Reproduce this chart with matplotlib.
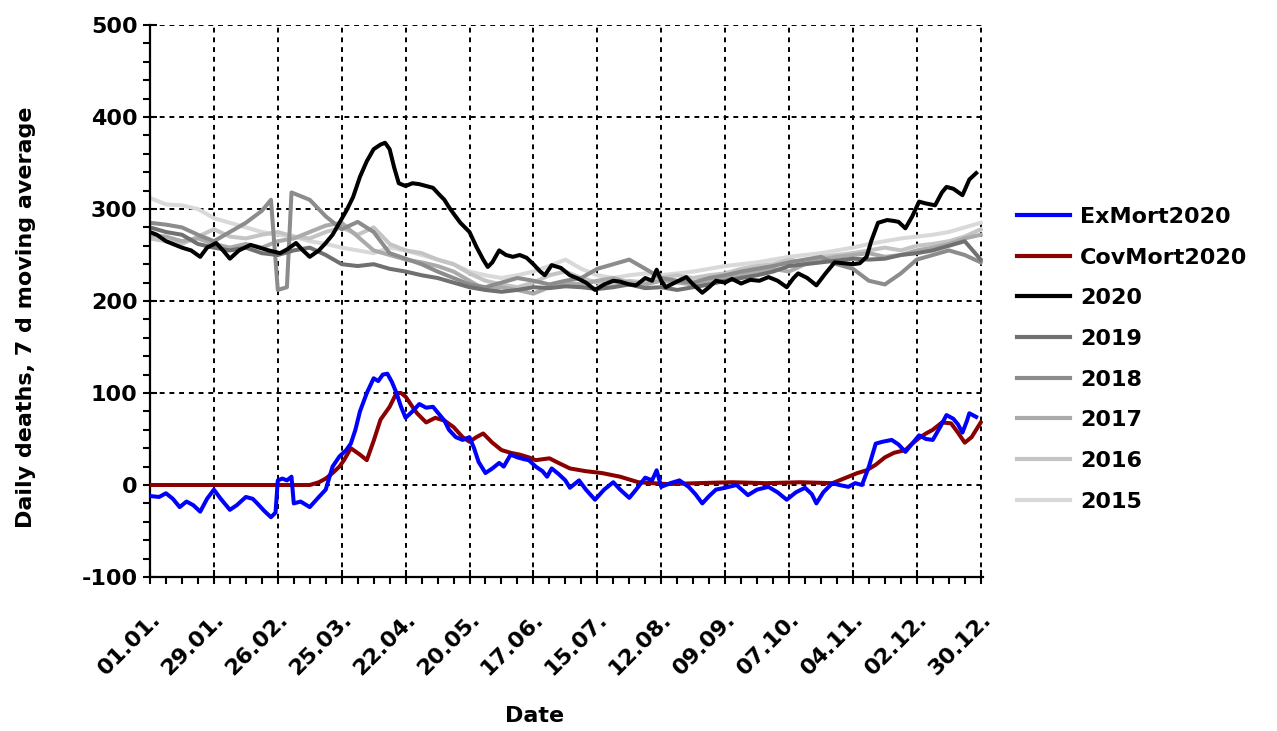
import matplotlib
matplotlib.use("Agg")
import matplotlib.pyplot as plt
from matplotlib.ticker import MultipleLocator
from matplotlib.lines import Line2D
from matplotlib.transforms import ScaledTranslation

plt.rcParams['font.family'] = ['DejaVu Sans']
plt.rcParams['font.weight'] = 'bold'
plt.rcParams['axes.unicode_minus'] = False

# ---------------- data (day of year index, value) ----------------
tick_days = [0, 28, 56, 84, 112, 140, 168, 196, 224, 252, 280, 308, 336, 364]
tick_labels = ["01.01.", "29.01.", "26.02.", "25.03.", "22.04.", "20.05.", "17.06.",
               "15.07.", "12.08.", "09.09.", "07.10.", "04.11.", "02.12.", "30.12."]

d2020 = [0, 3, 7, 10, 14, 18, 22, 25, 29, 32, 35, 39, 44, 48, 52, 57, 60, 64, 67, 70, 74, 77, 80, 83,
         86, 89, 92, 95, 98, 101, 103, 105, 107, 109, 112, 115, 118, 121, 124, 127, 129, 131, 133,
         136, 140, 143, 146, 148, 150, 153, 156, 159, 162, 165, 168, 171, 173, 176, 180, 184, 187,
         191, 195, 199, 203, 206, 210, 213, 217, 220, 222, 224, 226, 230, 235, 238, 242, 245, 248,
         252, 255, 259, 263, 267, 271, 275, 279, 282, 284, 288, 292, 296, 300, 304, 308, 311, 314,
         316, 319, 323, 326, 328, 331, 334, 337, 340, 344, 347, 349, 352, 356, 359, 362]
v2020 = [275, 272, 265, 262, 258, 255, 248, 258, 263, 255, 246, 255, 261, 258, 255, 252, 256, 263,
         255, 248, 255, 263, 272, 285, 298, 313, 335, 352, 365, 370, 372, 365, 345, 328, 325, 328,
         327, 325, 323, 315, 310, 302, 295, 285, 275, 259, 245, 237, 242, 255, 250, 248, 250, 247,
         240, 232, 228, 239, 236, 228, 225, 220, 212, 218, 222, 221, 218, 217, 225, 222, 234, 222,
         215, 220, 226, 218, 209, 215, 222, 220, 224, 219, 223, 222, 226, 222, 215, 225, 230, 225,
         217, 230, 242, 241, 240, 241, 248, 265, 285, 288, 287, 286, 279, 292, 308, 306, 304, 318,
         324, 322, 315, 332, 339]

dex = [0, 4, 7, 10, 13, 16, 19, 22, 25, 28, 31, 35, 38, 42, 45, 47, 50, 53, 55, 56, 58, 60, 62, 63,
       66, 70, 74, 77, 80, 83, 86, 88, 90, 92, 95, 98, 100, 102, 104, 106, 108, 110, 112, 115, 118,
       121, 124, 127, 129, 131, 134, 137, 140, 142, 144, 147, 150, 153, 155, 158, 161, 164, 166,
       169, 172, 174, 176, 179, 182, 184, 188, 191, 195, 199, 203, 206, 210, 213, 217, 220, 222,
       224, 228, 232, 236, 239, 242, 245, 248, 252, 257, 262, 266, 271, 275, 279, 283, 287, 290,
       292, 295, 299, 302, 306, 309, 312, 315, 318, 321, 325, 328, 331, 334, 337, 340, 343, 346,
       349, 352, 354, 356, 358, 359, 362]
vex = [-12, -13, -9, -15, -24, -18, -22, -29, -15, -5, -15, -27, -22, -13, -15, -20, -28, -35, -30,
       5, 7, 5, 9, -20, -18, -24, -13, -5, 20, 31, 38, 45, 60, 80, 100, 116, 113, 120, 121, 112, 100,
       85, 73, 80, 88, 84, 85, 76, 70, 60, 52, 49, 52, 40, 25, 13, 18, 24, 20, 33, 30, 28, 27, 20, 15,
       9, 18, 12, 5, -3, 5, -5, -16, -5, 3, -5, -14, -5, 8, 5, 16, -2, 2, 5, -2, -10, -20, -12, -5,
       -3, 0, -11, -5, -2, -8, -16, -8, -3, -10, -20, -8, 2, 0, -2, 2, 0, 20, 45, 47, 49, 44, 36, 45,
       54, 50, 49, 62, 76, 72, 66, 57, 70, 78, 74]

dcov = [0, 70, 74, 77, 80, 83, 85, 88, 92, 95, 98, 101, 105, 108, 110, 112, 115, 117, 121, 125, 129,
        133, 137, 140, 143, 146, 150, 154, 158, 162, 166, 169, 172, 175, 179, 184, 191, 198, 206,
        214, 220, 227, 240, 255, 270, 285, 299, 302, 306, 310, 314, 318, 322, 326, 331, 334, 337,
        340, 343, 347, 351, 354, 357, 360, 364]
vcov = [0, 0, 3, 7, 13, 20, 27, 40, 33, 27, 48, 71, 85, 100, 100, 96, 85, 78, 68, 73, 70, 63, 52, 47,
        52, 56, 46, 38, 35, 33, 30, 27, 28, 29, 24, 18, 15, 13, 9, 3, 2, 1, 2, 3, 2, 3, 2, 5, 9, 13,
        16, 22, 30, 35, 38, 45, 51, 56, 60, 68, 67, 57, 46, 52, 68]

dweek = [0, 7, 14, 21, 28, 35, 42, 49, 56, 63, 70, 77, 84, 91, 98, 105, 112, 119, 126, 133, 140,
         147, 154, 161, 168, 175, 182, 189, 196, 203, 210, 217, 224, 231, 238, 245, 252, 259, 266,
         273, 280, 287, 294, 301, 308, 315, 322, 329, 336, 343, 350, 357, 364]
v2019 = [280, 275, 272, 262, 258, 255, 258, 252, 250, 255, 258, 250, 240, 238, 240, 235, 232, 228,
         225, 220, 215, 212, 210, 212, 215, 214, 216, 215, 213, 215, 218, 214, 215, 212, 215, 218,
         222, 225, 228, 232, 238, 240, 242, 244, 246, 245, 246, 250, 252, 255, 260, 265, 245]
d2018 = [0, 7, 14, 21, 28, 35, 42, 49, 53, 56, 60, 62, 70, 77, 84, 91, 98, 105, 112, 119, 126, 133,
         140, 147, 154, 161, 168, 175, 182, 189, 196, 203, 210, 217, 224, 231, 238, 245, 252, 259,
         266, 273, 280, 287, 294, 301, 308, 315, 322, 329, 336, 343, 350, 357, 364]
v2018 = [285, 283, 280, 272, 265, 275, 285, 298, 310, 212, 215, 318, 310, 292, 278, 286, 275, 252,
         246, 240, 232, 225, 218, 215, 220, 225, 222, 218, 222, 225, 235, 240, 245, 235, 225, 222,
         220, 225, 228, 232, 235, 238, 242, 245, 248, 240, 235, 222, 218, 230, 245, 250, 255, 250, 242]
v2017 = [272, 270, 265, 268, 262, 258, 262, 258, 265, 268, 275, 282, 285, 270, 255, 250, 245, 242,
         238, 232, 222, 212, 215, 212, 208, 215, 220, 218, 222, 225, 220, 218, 222, 220, 218, 222,
         225, 228, 232, 235, 232, 240, 245, 248, 250, 252, 248, 250, 255, 258, 262, 268, 272]
v2016 = [268, 265, 262, 270, 278, 270, 268, 272, 275, 270, 268, 275, 280, 272, 280, 262, 255, 252,
         245, 240, 230, 222, 218, 215, 220, 228, 232, 225, 220, 218, 222, 220, 225, 228, 225, 228,
         230, 235, 238, 240, 245, 242, 248, 250, 252, 255, 258, 255, 260, 262, 265, 270, 278]
v2015 = [312, 305, 304, 300, 290, 285, 280, 275, 272, 270, 265, 262, 258, 255, 252, 258, 255, 250,
         245, 240, 232, 228, 225, 228, 232, 238, 245, 235, 228, 225, 228, 230, 228, 230, 232, 235,
         238, 240, 242, 245, 248, 250, 252, 255, 258, 262, 265, 268, 270, 272, 275, 280, 285]

# ---------------- figure ----------------
FS = 16
fig = plt.figure(figsize=(12.77, 7.31), dpi=100)
ax = fig.add_axes([150 / 1277, 1 - 577 / 731, 833 / 1277, 552 / 731])

lw = 2.9
ax.plot(dweek, v2015, color="#d9d9d9", lw=lw, zorder=2)
ax.plot(dweek, v2016, color="#c4c4c4", lw=lw, zorder=2)
ax.plot(dweek, v2017, color="#aaaaaa", lw=lw, zorder=2)
ax.plot(d2018, v2018, color="#8c8c8c", lw=lw, zorder=2)
ax.plot(dweek, v2019, color="#707070", lw=lw, zorder=2)
ax.plot(d2020, v2020, color="black", lw=lw, zorder=3)
ax.plot(dcov, vcov, color="#8b0000", lw=lw, zorder=3)
ax.plot(dex, vex, color="#0000ff", lw=lw, zorder=4)

handles = [Line2D([], [], color="#0000ff", lw=3),
           Line2D([], [], color="#8b0000", lw=3),
           Line2D([], [], color="black", lw=3),
           Line2D([], [], color="#707070", lw=3),
           Line2D([], [], color="#8c8c8c", lw=3),
           Line2D([], [], color="#aaaaaa", lw=3),
           Line2D([], [], color="#c4c4c4", lw=3),
           Line2D([], [], color="#d9d9d9", lw=3)]
labels = ["ExMort2020", "CovMort2020", "2020", "2019", "2018", "2017", "2016", "2015"]
fig.legend(handles, labels, loc="upper left", bbox_to_anchor=(1008 / 1277, 1 - 198 / 731),
           frameon=False, fontsize=FS, handlelength=2.4, handletextpad=0.45,
           labelspacing=0.93, borderaxespad=0)

ax.set_xlim(0, 365)
ax.set_ylim(-100, 500)
ax.xaxis.set_minor_locator(MultipleLocator(7))
ax.yaxis.set_major_locator(MultipleLocator(100))
ax.yaxis.set_minor_locator(MultipleLocator(20))
ax.set_xticks(tick_days)
ax.set_xticklabels(tick_labels, rotation=45, ha="right", va="top", rotation_mode="anchor")
for lab in ax.get_xticklabels():
    lab.set_transform(lab.get_transform() + ScaledTranslation(4 / 72, 0, fig.dpi_scale_trans))

ax.tick_params(axis="both", which="major", direction="inout", length=10, width=1.5,
               labelsize=FS, pad=4)
ax.tick_params(axis="both", which="minor", direction="out", length=5, width=1.5)
ax.tick_params(axis="x", which="major", pad=18)

for s in ["top", "right"]:
    ax.spines[s].set_visible(False)
for s in ["left", "bottom"]:
    ax.spines[s].set_linewidth(1.6)

ax.grid(True, which="major", color="black", linestyle=(0, (2.5, 2.5)), lw=1.4, zorder=1)
ax.set_axisbelow(True)

ax.set_ylabel("Daily deaths, 7 d moving average", fontsize=FS, fontweight="bold")
ax.yaxis.set_label_coords((36 - 150) / 833, (577 - 317) / 552)
ax.set_xlabel("Date", fontsize=FS, fontweight="bold")
ax.xaxis.set_label_coords((535 - 150) / 833, (577 - 706) / 552)

fig.savefig("out.png", dpi=100)
